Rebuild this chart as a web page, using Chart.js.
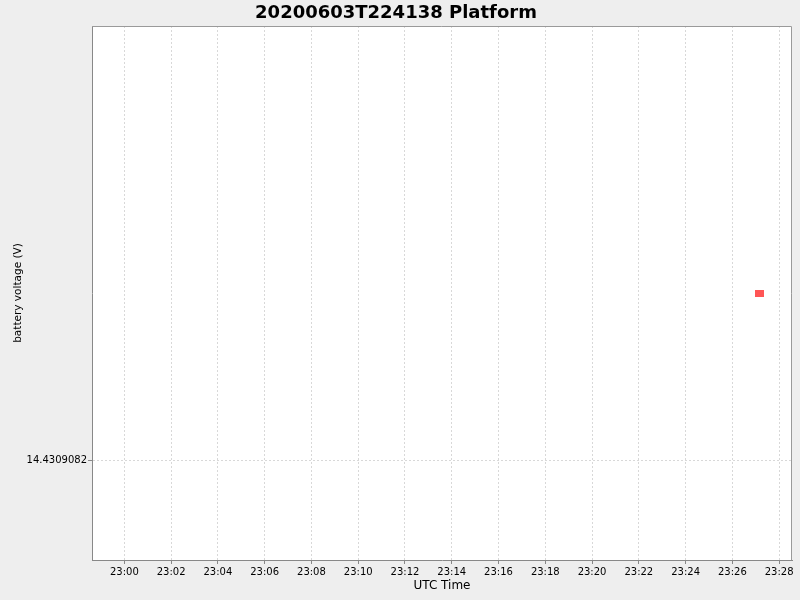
<!DOCTYPE html>
<html>
<head>
<meta charset="utf-8">
<script src="https://cdn.jsdelivr.net/npm/chart.js@4/dist/chart.umd.min.js"></script>
<style>
  html, body { margin: 0; padding: 0; background: #eeeeee; }
  #wrap { width: 800px; height: 600px; }
</style>
</head>
<body>
<div id="wrap"><canvas id="grafico"></canvas></div>
<script>
// dados
const horas = ["23:27:09"];
const tensao = [14.43090820344];
const rotulosX = ["23:00", "23:02", "23:04", "23:06", "23:08", "23:10", "23:12", "23:14",
                  "23:16", "23:18", "23:20", "23:22", "23:24", "23:26", "23:28"];
const rotulosY = ["14.4309082"];
const limitesX = ["22:58:37", "23:28:33"];
const limitesY = [14.43090819795, 14.43090820895];

// "hh:mm[:ss]" -> minutos desde a meia-noite
function minutos(txt) {
    const p = txt.split(":").map(Number);
    return p[0] * 60 + p[1] + (p[2] || 0) / 60;
}

const fonte = "'DejaVu Sans', sans-serif";

// moldura do gráfico (topo e direita)
const moldura = {
    id: "moldura",
    afterDraw(chart) {
        const { ctx, chartArea: a } = chart;
        ctx.save();
        ctx.strokeStyle = "#9a9a9a";
        ctx.lineWidth = 1;
        ctx.beginPath();
        ctx.moveTo(a.left, a.top + 0.5);
        ctx.lineTo(a.right - 0.5, a.top + 0.5);
        ctx.lineTo(a.right - 0.5, a.bottom);
        ctx.stroke();
        ctx.restore();
    }
};

const fundo = {
    id: "fundo",
    beforeDraw(chart) {
        const { ctx, chartArea: a } = chart;
        ctx.save();
        ctx.fillStyle = "#ffffff";
        ctx.fillRect(a.left, a.top, a.right - a.left, a.bottom - a.top);
        ctx.restore();
    }
};

// quadrado 9x7 igual ao do JFreeChart
const marcador = document.createElement("canvas");
marcador.width = 9;
marcador.height = 7;
const mctx = marcador.getContext("2d");
mctx.fillStyle = "#ff5555";
mctx.fillRect(0, 0, 9, 7);

const ctx = document.getElementById("grafico").getContext("2d");

new Chart(ctx, {
    type: "scatter",
    data: {
        datasets: [{
            label: "battery voltage (V)",
            data: horas.map((h, i) => ({ x: minutos(h), y: tensao[i] })),
            pointStyle: marcador,
            backgroundColor: "#ff5555",
            borderColor: "#ff5555",
            pointRadius: 5
        }]
    },
    options: {
        responsive: true,
        maintainAspectRatio: false,
        animation: false,
        layout: { padding: { left: 0, right: 8, top: 0, bottom: 0 } },
        scales: {
            x: {
                type: "linear",
                min: minutos(limitesX[0]),
                max: minutos(limitesX[1]),
                afterBuildTicks: (s) => { s.ticks = rotulosX.map(r => ({ value: minutos(r) })); },
                afterFit: (s) => { s.height = 40; },
                ticks: {
                    autoSkip: false,
                    maxRotation: 0,
                    padding: 2,
                    color: "#000",
                    font: { family: fonte, size: 10 },
                    callback: (v, i) => rotulosX[i]
                },
                grid: { color: "#d8d8d8", tickColor: "#888", tickLength: 4 },
                border: { color: "#888", width: 1, dash: [2, 2] },
                title: {
                    display: true,
                    text: "UTC Time",
                    color: "#000",
                    font: { family: fonte, size: 12 },
                    padding: { top: 0, bottom: 7 }
                }
            },
            y: {
                type: "linear",
                min: limitesY[0],
                max: limitesY[1],
                afterBuildTicks: (s) => { s.ticks = rotulosY.map(r => ({ value: parseFloat(r) })); },
                afterFit: (s) => { s.width = 92; },
                ticks: {
                    padding: 1,
                    color: "#000",
                    font: { family: fonte, size: 10 },
                    callback: (v, i) => rotulosY[i]
                },
                grid: { color: "#d8d8d8", tickColor: "#888", tickLength: 4 },
                border: { color: "#888", width: 1, dash: [2, 2] },
                title: {
                    display: true,
                    text: "battery voltage (V)",
                    color: "#000",
                    font: { family: fonte, size: 10.5 },
                    padding: { top: 12, bottom: 0 }
                }
            }
        },
        plugins: {
            legend: { display: false },
            tooltip: { enabled: false },
            title: {
                display: true,
                text: "20200603T224138 Platform",
                color: "#000",
                font: { family: fonte, size: 18, weight: "bold" },
                padding: { top: 3, bottom: 1.4 }
            }
        }
    },
    plugins: [fundo, moldura]
});
</script>
</body>
</html>
